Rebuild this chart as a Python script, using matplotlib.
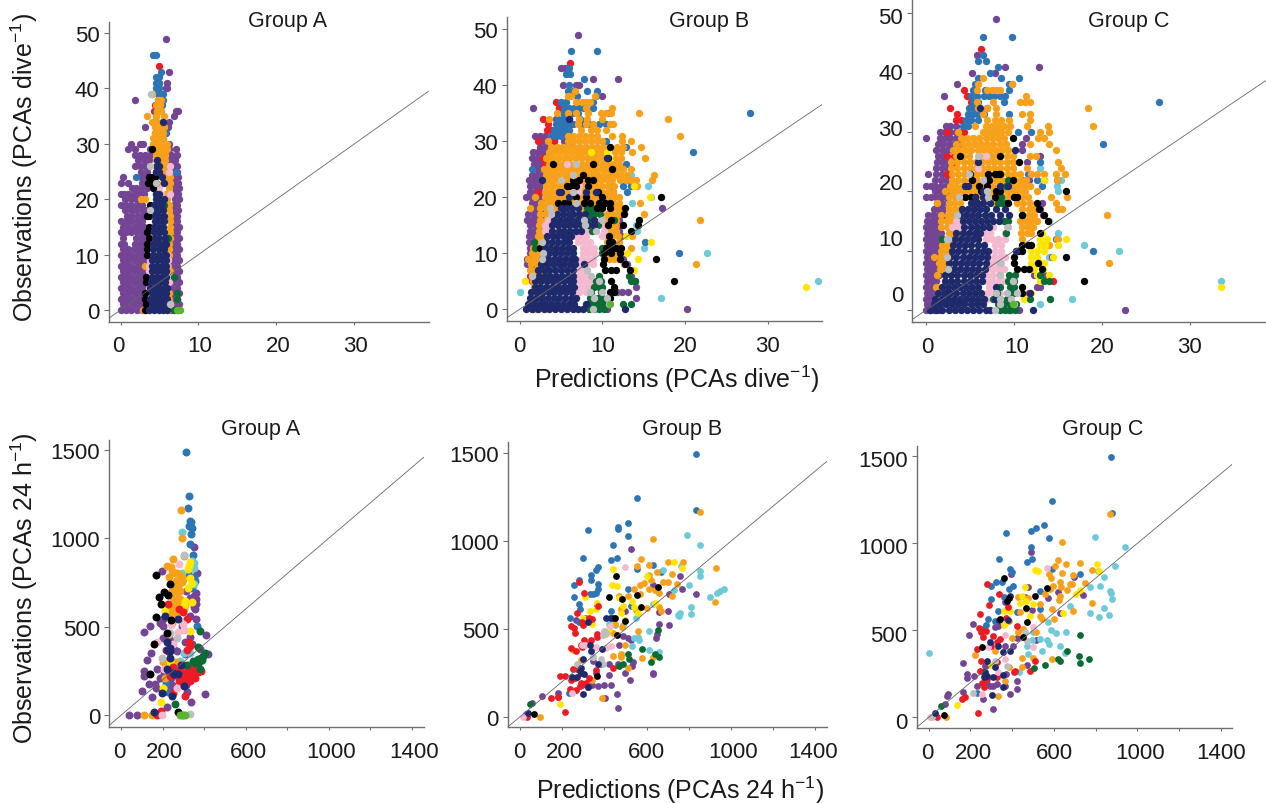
import numpy as np
import matplotlib
matplotlib.use('Agg')
import matplotlib.pyplot as plt
from matplotlib.transforms import ScaledTranslation

plt.rcParams['font.family'] = ['Liberation Sans', 'DejaVu Sans']
plt.rcParams['mathtext.fontset'] = 'custom'
plt.rcParams['mathtext.rm'] = 'Liberation Sans'
plt.rcParams['mathtext.default'] = 'rm'

W, H = 1266, 804

colors = {'purple': '#744595', 'navy': '#1f2a6d', 'orange': '#f7a11a', 'blue': '#2e75b6',
          'red': '#ed1c24', 'black': '#000000', 'pink': '#f4b8cf', 'grey': '#bcbec0',
          'green': '#0b6b35', 'cyan': '#6dcad9', 'yellow': '#ffe600', 'lime': '#5db52f'}

# top row: observations are whole numbers so each list is {observation: [predictions]}
# ---- dive, group A
ta_purple = {0: [0, .7, 1.4, 2.1, 2.8, 3.2, 6.5, 7.2], 1: [.3, 1, 1.7, 2.4, 3, 6.8, 7.5],
             2: [0, .7, 1.4, 2.1, 2.8, 3.2, 6.5, 7.2], 3: [.3, 1, 1.7, 2.4, 3, 6.8, 7.5],
             4: [0, .7, 1.4, 2.1, 2.8, 3.2, 6.5, 7.2], 5: [.3, 1, 1.7, 2.4, 3, 6.8, 7.5],
             6: [0, .7, 1.4, 2.1, 2.8, 3.2, 6.5, 7.2], 7: [.3, 1, 1.7, 2.4, 3, 6.8, 7.5],
             8: [0, .7, 1.4, 2.1, 2.8, 3.2, 6.5, 7.2], 9: [.3, 1, 1.7, 2.4, 3, 6.8, 7.5],
             10: [0, .7, 1.4, 2.1, 2.8, 3.2, 6.5, 7.2], 11: [.3, 1, 1.7, 2.4, 3, 6.8, 7.5],
             12: [0, .5, 1.9, 2.5, 3.2, 6.5, 7.2], 13: [.3, 2, 2.6, 3, 6.8, 7.5],
             14: [0, .7, 1.4, 2.1, 2.8, 3.2, 6.5, 7.2], 15: [.3, 1, 1.7, 2.4, 3, 6.8, 7.5],
             16: [0, .7, 1.4, 2.1, 2.8, 6.5, 7.2], 17: [.8, 1.5, 2.2, 2.9, 6.8, 7.3],
             18: [.6, 1.3, 2, 2.7, 3.2, 7, 7.4], 19: [0, .7, 1.4, 2.1, 2.8, 6.8, 7.3],
             20: [.6, 1.3, 2, 2.7, 7, 7.5], 21: [0, .5, 1, 1.7, 2.4, 3, 6.9, 7.4],
             22: [1.5, 2, 2.6, 3.4, 7, 7.5], 23: [.1, .9, 2.7, 3.3, 6.9, 7.4],
             24: [.3, 2.6, 3.3, 7, 7.4], 25: [2.6, 3.4, 7, 7.3], 26: [1.8, 2.5, 3.2, 6.6, 7.2],
             27: [2.3, 3, 3.6, 6.4, 7], 28: [1.8, 2.5, 3.2, 3.8, 6.5, 7.2], 29: [1, 1.8, 3.8, 6.2, 7.1],
             30: [1.3, 2.5, 2.9, 6.2], 33: [3.1, 6.1], 34: [6.2], 35: [6.8], 36: [7.1, 7.4],
             38: [1.9], 40: [5.8, 6], 41: [5, 6], 43: [6.2], 49: [5.8]}
ta_blue = {31: [4.5, 5.5], 32: [4.4, 5.8], 33: [4.6, 5.6], 34: [4.5], 35: [4.5], 36: [4.6], 37: [4.7, 5.3],
           38: [4.8, 5.5], 39: [4.8, 5.2, 5.5], 40: [4.5, 5], 41: [4.5, 5], 42: [4.5, 4.9], 43: [5.2],
           46: [4.2, 4.5], 25: [7.1], 24: [2]}
ta_red = {44: [4.9], 37: [4.4], 36: [4.3]}
ta_orange = {39: [4.1], 38: [4.8, 5.2], 37: [4.6, 5.1], 36: [4.7, 5.2], 35: [3.4, 4.6, 5.6], 34: [4.1, 4.7, 5.3],
             33: [4.4, 5, 5.6], 32: [4.4, 5, 5.5], 31: [4.2, 4.8, 5.4], 30: [4.2, 4.8, 5.4, 5.9],
             29: [4.3, 4.9, 5.5, 6], 28: [4.5, 5.1, 5.7], 27: [4.5, 5.1, 5.7], 26: [4.6, 5.2, 5.8],
             25: [4.6, 5.2, 5.8], 24: [5.4, 5.9, 6.4], 23: [5.5, 6.3], 22: [6.2], 21: [5.8, 6.2], 20: [2.6, 3.2, 6],
             19: [6.2], 18: [6.2], 17: [6.3], 16: [6.3], 15: [6.4], 14: [6.4], 13: [6.4], 12: [6.2],
             11: [6.2], 10: [6.2], 9: [6.1], 8: [6.1, 3.2], 7: [6.3], 6: [6.5], 5: [6.1], 3: [6.2], 2: [6.2], 1: [6.3], 0: [2.9, 6.1]}
ta_pink = {26: [6.4], 25: [6.2], 24: [5.3], 22: [5], 21: [5.2, 6.3], 15: [3.9], 14: [4], 13: [3.9], 12: [4], 11: [4],
           10: [3.8, 6], 9: [3.8, 6.1], 8: [3.6, 6], 7: [3.6], 6: [3.7, 6.3], 5: [3.8, 6.2], 4: [3.6], 3: [3.6], 2: [3.6], 1: [6.4]}
ta_black = {29: [4.1], 26: [4.7], 25: [4.5], 24: [3.6, 4, 4.4], 23: [3.5, 3.9, 4.5], 22: [4.2], 21: [4.5],
            19: [3.8], 17: [3.4, 3.6], 15: [3.7], 14: [3.4], 13: [3.6], 12: [3.4], 11: [3.4], 10: [3.4],
            6: [3.3], 5: [3.3], 3: [3.2], 2: [3.2], 1: [3.3], 0: [3.2]}
ta_navy = {34: [5.4], 27: [4.7], 26: [4.7, 5], 25: [4.5, 4.9], 24: [5.3], 23: [5.6], 21: [4.6, 5], 20: [4.5, 5, 5.6],
           19: [4.3, 4.9, 5.3], 18: [4.2, 4.8, 5.4], 17: [4.4, 5, 5.6], 16: [4.4, 5, 5.6], 15: [4.3, 4.9, 5.5], 14: [4.3, 4.9, 5.6],
           13: [4.4, 5, 5.7], 12: [4.2, 4.8, 5.4, 5.8], 11: [4.2, 4.9, 5.6], 10: [4.2, 4.8, 5.4, 5.8], 9: [4.1, 4.7, 5.3, 5.8],
           8: [4.1, 4.7, 5.3, 5.8], 7: [4.1, 4.7, 5.3, 5.8], 6: [4.1, 4.7, 5.3, 5.8], 5: [3.9, 4.5, 5.1, 5.7], 4: [3.8, 4.4, 5, 5.6, 6],
           3: [4, 4.6, 5.2, 5.8], 2: [3.8, 4.4, 5, 5.6, 6], 1: [4, 4.6, 5.2, 5.8], 0: [3.7, 4.3, 4.9, 5.5, 6]}
ta_grey = {26: [3.8], 23: [4.6], 18: [3.8], 1: [6.4], 39: [3.9]}
ta_green = {19: [5.6], 13: [6.1], 6: [6.9], 3: [7.2], 2: [7.2], 0: [6.9, 7.4]}
ta_lime = {0: [7.3, 7.6]}

# ---- dive, group B
tb_purple = {0: [10.5, 20.2], 1: [9.5], 2: [14], 3: [11.8, 12.4, 13.1], 4: [14], 5: [13.9], 6: [13.5], 8: [.9, 1.6, 13],
             9: [.9, 1.5, 12.5], 10: [1.2, 1.8], 11: [1.3, 2], 12: [1.1, 1.7, 2.3], 13: [1.1, 1.7, 2.3, 12.3],
             14: [1.2, 1.9, 2.5, 12], 15: [1.2, 1.9, 12.3], 16: [.9, 1.5, 2.1, 2.7, 12], 17: [1, 1.7, 2.3, 12.4],
             18: [1.5, 2.1, 2.7, 17.2], 19: [1.5, 2.1, 2.7], 20: [.8, 1.4, 2, 2.6], 21: [1.2, 1.8, 2.4],
             22: [1.2, 1.8, 2.4], 23: [1.1, 1.6, 2.2, 2.8], 24: [1.5, 2.1, 2.7], 25: [1.6, 2.2, 2.8],
             26: [1.7, 2.3, 2.9], 27: [1.5, 2.1, 2.7], 28: [1.6, 2.2, 2.8], 29: [2.5, 3.2, 5.2],
             30: [2.8, 3.3, 4.1, 5.4, 6.2], 31: [1.9, 2.5, 3, 5.5, 6], 33: [6.5, 7.5], 34: [4.4, 6], 36: [1.6, 4.8],
             38: [9.9], 40: [5.2, 6.8, 7.2], 41: [8.9, 11.9], 43: [5, 5.5], 49: [7]}
tb_red = {37: [4.4], 36: [4.7], 34: [2.8], 33: [3.4], 32: [3.3, 3.8], 31: [4.4], 30: [2.2, 4.2], 27: [2.8], 26: [3], 25: [3],
          44: [6.1], 5: [1.5], 21: [2.2], 6: [1.3]}
tb_blue = {46: [6.2, 9.3], 43: [5.9], 42: [5.6, 6.1], 41: [7.8], 40: [6], 39: [5.8, 6.4, 8.1, 9.3], 38: [6.9, 9.2], 37: [5, 5.6, 8.9],
           36: [5.4, 6, 6.6, 7.2, 7.8, 8, 8.9], 35: [5.2, 5.8, 6.4, 7.1, 10.7, 27.8], 34: [4.6, 5.2, 5.8, 7.3], 33: [4.4, 5, 5.6, 6.2, 7.4, 8.4, 9.6, 10.4],
           32: [4.2, 4.8, 5.4, 6], 31: [3.8, 4.4, 5], 30: [10.4], 29: [12.8], 28: [20.9], 26: [12.9], 25: [1.5, 11], 24: [11.6], 22: [11.2, 12.5, 13.5],
           21: [11.3, 13], 12: [15.1], 10: [19.3], 23: [13]}
tb_cyan = {3: [0], 2: [17.1], 5: [36], 10: [22.6], 11: [15], 24: [13.5], 22: [13.5, 15.5], 19: [13.6], 20: [15.9], 15: [14], 14: [14.2], 25: [11.5]}
tb_orange = {0: [1.5, 2], 1: [1.6, 2.2], 2: [1.5, 2.1], 3: [1.6, 2.2], 4: [1.7, 2.3], 5: [1.6], 6: [1.5, 2.1], 7: [1.3, 2, 2.6],
             8: [1.4, 2.1, 2.7, 21.3, 12.6], 9: [1, 1.7, 2.4, 10.8, 11.4, 12], 10: [1.5, 2.1, 2.7, 10.3, 11, 11.7], 11: [1.6, 2.3, 10.2, 11, 13.4],
             12: [2, 2.6, 10.5, 11.2, 12], 13: [2.2, 2.8, 10.5, 11.2, 11.9, 13.6], 14: [2.3, 3, 3.6, 10.4, 11, 11.6], 15: [2.3, 3, 3.6, 10.2, 10.9, 11.6],
             16: [2.5, 3.2, 3.8, 10.2, 10.9, 11.6, 21.8], 17: [2.5, 3.2, 3.8, 10.5, 11.2, 11.9, 15], 18: [1.2, 2.5, 3.2, 3.9, 4.6, 7.6, 9.8, 11, 11.7, 12.3],
             19: [2.6, 3.3, 4, 4.7, 5.4, 6.1, 6.8, 7.5, 8.2, 8.9, 9.6, 10.3, 11.3, 12, 14.6], 20: [1.8, 3, 3.7, 4.4, 5, 5.7, 6.4, 7.1, 7.8, 8.5, 9.2, 10, 10.7, 11.4, 12],
             21: [3, 3.7, 4.4, 5.1, 5.8, 6.5, 7.2, 7.9, 8.6, 9.3, 10, 10.7, 11.3], 22: [3.2, 3.9, 4.6, 5.3, 6, 6.7, 7.4, 8.1, 8.7, 9.3, 10, 10.7, 11.4, 14.2],
             23: [2.8, 3.5, 4.2, 4.9, 5.6, 6.3, 7, 7.7, 8.4, 9.1, 9.8, 10.5, 11.2, 12.1, 12.8, 13.5, 14, 16],
             24: [3.2, 3.9, 4.6, 5.3, 6, 6.7, 7.4, 8.1, 8.8, 9.5, 10.2, 10.9, 11.6, 12.3, 13, 16.2], 25: [2.9, 3.6, 4.3, 5, 5.7, 6.4, 7.1, 7.8, 8.5, 9.2, 9.9, 10.6, 11.8, 12.5, 13.4],
             26: [3.5, 4.7, 5.4, 6.1, 6.8, 7.5, 8.2, 9.2, 9.9, 10.6, 11.3, 12],
             27: [3.2, 3.9, 4.6, 5.3, 6, 6.7, 7.4, 8.1, 8.8, 9.5, 10.2, 11.6, 12.3, 15.2], 28: [3.5, 4.2, 4.9, 5.6, 6.3, 7, 7.7, 8.4, 9.1, 9.8, 11.5, 12.2, 13.6],
             29: [3.8, 4.5, 5.2, 5.9, 6.6, 7.3, 8, 8.7, 9.4, 10.1, 11.8, 12.5, 14.7], 30: [3.4, 5.8, 6.5, 7.2, 7.9, 8.6, 9.3, 10, 12.4, 13.5],
             31: [5.8, 6.5, 7.2, 7.9, 8.6, 9.3, 11.1, 12.4, 19.4], 32: [7.4, 8.6, 9.4, 10.4], 33: [7, 8, 8.8, 10.9, 11.3], 34: [3.6, 7.2, 8.1, 10, 17.9],
             35: [4.5, 5.8, 6.8, 8.3, 9.8, 10.4, 11, 14.4], 36: [8, 11.1], 37: [6.8, 7.5, 8, 8.5], 38: [5.8, 6.2, 9.1], 39: [6.7]}
tb_yellow = {4: [34.6], 5: [.7], 9: [14.3], 10: [13], 12: [15.9], 20: [15.7], 22: [13.8], 28: [8.6, 10.6], 27: [10.8], 7: [13.8], 13: [12.9]}
tb_pink = {3: [7.2, 8], 4: [7.4, 8.1, 8.8], 5: [7.2, 7.9, 8.6], 6: [7.1, 7.8, 8.5], 7: [7.3, 8], 8: [7.4, 8.1, 8.8], 9: [7.5, 8.2, 8.9],
           10: [7.6, 8.3, 9], 11: [7.6, 8.3, 9], 12: [7, 7.8, 8.5], 13: [6.6, 7.3, 8, 10], 14: [3, 3.8, 7.8, 8.5, 10.2], 15: [3, 3.7, 4.4, 9.9], 16: [3.4, 4, 9.7],
           17: [7, 8], 21: [7], 22: [7.2], 26: [5.7]}
tb_green = {0: [8.4, 9, 9.6, 10.2], 1: [8.2, 8.9, 9.5, 10.2, 12.5, 13.4], 2: [8.5, 9.5, 10], 3: [8.6, 9.8], 4: [9, 9.6, 10], 5: [9.2, 9.8, 13.4, 13.9], 6: [9.6, 13.2], 10: [10], 11: [1.8, 10], 12: [1.7],
            14: [8.7], 15: [8.8, 9.5], 16: [8.6, 11.4], 17: [8.5, 9, 9.7], 18: [8.1, 8.7, 9.4]}
tb_black = {29: [10.9], 27: [10.7], 26: [4, 8.9], 25: [11.1], 24: [7.6], 23: [6.5, 7.2, 8.3, 8.8], 22: [5.7, 6.2, 6.8, 8.2], 21: [9.5], 20: [6.8, 8, 10, 17.1],
            19: [4.6, 5.3, 5.8, 7.8, 8.5, 9.6, 10.3, 10.9], 18: [9.4, 10, 10.9, 12.7], 17: [12.6], 16: [11, 14.4], 15: [10.7, 12.5, 14.3], 14: [13.4], 13: [10.8], 12: [10.8, 11.2],
            11: [2.4, 10.4, 11, 11.6, 12.2], 10: [10.2, 11, 12.1], 9: [10.2, 12.1, 16.5], 8: [10.1, 12.7], 7: [10.3, 11, 11.7, 13.3], 5: [18.6, 11], 4: [11.4], 3: [10.9, 11.4], 2: [10.9]}
tb_navy = {0: [.8, 1.5, 2.2, 2.9, 3.6, 4.3, 5, 5.7, 6.4, 7, 7.6, 12.7], 1: [1, 1.7, 2.4, 3.1, 3.8, 4.5, 5.2, 5.9, 6.6, 8], 2: [1.2, 2, 2.7, 3.4, 4.1, 4.8, 5.5, 6.2, 6.8],
           3: [1.4, 2.1, 2.8, 3.5, 4.2, 4.9, 5.6, 6.3], 4: [1.8, 2.5, 3.2, 3.9, 4.6, 5.3, 6, 6.6], 5: [1.9, 2.6, 3.3, 4, 4.7, 5.4, 6.1, 6.5],
           6: [2.3, 3, 3.7, 4.4, 5.1, 5.8, 6.5], 7: [2.2, 2.9, 3.6, 4.3, 5, 5.7, 6.4], 8: [2.6, 3.3, 4, 4.7, 5.4, 6.1, 6.7, 7.8], 9: [2.7, 3.4, 4.1, 4.8, 5.5, 6.2, 6.7],
           10: [2.9, 3.6, 4.3, 5, 5.7, 6.4], 11: [3, 3.7, 4.4, 5.1, 5.8, 6.4], 12: [3.2, 3.9, 4.6, 5.3, 5.9], 13: [3.3, 4, 4.5, 5.2, 5.7, 6.2], 14: [3.9, 4.7, 5.4, 6.1, 6.8, 7.4],
           15: [3.9, 4.6, 5.3, 6, 6.7, 7.4, 8.3, 9], 16: [4.2, 4.9, 5.6, 6.2, 6.9, 7.5, 8, 9], 17: [4.5, 5.2, 5.9, 6.5, 7.2, 7.9], 18: [5, 5.6, 6.3, 7], 20: [6], 21: [4.7, 5, 8, 9.2], 23: [2.7], 27: [10.5], 34: [6]}
tb_grey = {0: [8.9], 1: [10.8], 2: [9, 10.6], 3: [8.5, 9.9], 5: [9.6], 6: [1.5, 8.6], 7: [8.1], 9: [2.7], 10: [2.8], 12: [2.7], 16: [7.8, 9.9], 14: [9.2], 15: [7.9], 17: [3.8], 18: [3.7], 21: [6.4], 23: [5],
           24: [6.5], 26: [6.8], 19: [6.8]}
tb_lime = {1: [10.9]}

# ---- dive, group C
tc_purple = {0: [0, .5, 1, 1.5, 9.5, 10.6, 22.7], 1: [.2, .7, 1.2, 1.6], 2: [0, .5, 1, 1.5], 3: [.2, .7, 1.2], 4: [0, .5, 1, 12.6, 13], 5: [.2, .7, 1.2], 6: [0, .5, 1, 1.5, 12.3, 13.5],
             7: [.2, .7, 1.2], 8: [0, .5, 1, 1.5], 9: [.2, .7, 1.2, 14.3], 10: [0, .5, 1, 1.5], 11: [.2, .7, 1.2, 1.7, 1.6], 12: [0, .5, 1, 1.5, 1.9], 13: [.2, .7, 1.2, 1.7], 14: [0, .5, 1, 1.5], 15: [.2, .7, 1.2],
             16: [.3, .8, 1.4, 2, 13.3], 17: [.9, 1.5, 2, 13], 18: [1.3, 1.9, 2.5, 13.2], 19: [0, .6, 1.2, 1.7, 2.3], 20: [1.1, 1.6, 2.2, 2.7], 21: [0, .6, 1.1, 1.7, 2.3, 2.7], 22: [1.1, 1.7, 2.3, 11, 11.7], 23: [.3, 1.2, 1.8, 2.4, 2.9], 24: [1.2, 1.8, 2.4],
             25: [1.3, 1.9, 2.3, 11.5], 26: [1.4, 2, 13], 27: [1.2, 1.8, 2.4, 3, 11], 28: [1.4, 2, 2.6, 3.2, 3.9, 10.9], 29: [0, 1.6, 2.2, 2.8, 3.4, 4, 11.4], 30: [1.6, 2.2, 2.8, 3.4, 4, 7.9], 31: [2.3, 2.8, 3.5], 34: [5.7, 7], 38: [3.6, 9.8], 40: [5.3, 7.9], 41: [9, 12.9], 43: [5.8], 49: [8], 36: [2.1]}
tc_red = {44: [6.3], 37: [4.4], 36: [4.7], 35: [5.1], 34: [2.8], 33: [3.6], 32: [3.4, 4], 30: [2.4, 4.4], 26: [2.4, 3.2], 25: [3.2], 23: [2.4], 3: [11.7], 5: [14.5]}
tc_blue = {46: [6.5, 9.8], 42: [6, 6.8], 43: [6.5], 41: [8.2], 40: [7.3], 39: [5.9, 8.6, 10.6], 38: [5.6, 9.5], 37: [5.4, 6.7, 9.5], 36: [5.2, 5.8, 6.6, 7.2, 7.8, 8.4, 9],
             35: [5.4, 6, 8.9, 26.5], 34: [4.9, 5.5, 6.1], 33: [4.8, 5.4, 6, 6.6, 9.5], 32: [4.6, 5.2, 6], 31: [4.2, 4.8], 30: [12, 10.5], 28: [20.2], 23: [11.6], 22: [12.7, 13.5, 14.9], 21: [13.2], 25: [13], 10: [19], 12: [14.8]}
tc_cyan = {1: [13], 2: [16.6], 5: [33.5], 10: [22], 11: [18], 12: [15], 13: [15], 20: [15], 21: [14.9], 22: [15.4], 24: [13], 15: [14], 9: [14]}
tc_orange = {2: [1.2, 1.7], 3: [1.4], 4: [1.2, 1.7], 6: [1.3], 7: [1.6, 2.1, 2.6], 8: [1.5, 2.1, 2.6, 20.8], 9: [1, 1.6, 2.2], 10: [1.7, 2.3, 2.8], 11: [1.9, 2.5, 13.5, 14],
             12: [2.2, 2.8, 11, 14.9], 13: [2.6, 3.1, 3.7, 10.8, 11.5, 12], 14: [1.7, 2.4, 3, 11, 11.6, 12.2], 15: [1.7, 2.4, 3, 10.7, 11.4, 12, 12.6], 16: [1.7, 2.5, 3.1, 3.7, 11, 11.7, 12.3, 20.6], 17: [2.7, 3.3, 3.9, 11, 11.7, 12.3, 15, 15.5],
             18: [1.3, 2.6, 3.2, 3.9, 7.8, 10.4, 11.1, 11.8, 14.8], 19: [2.7, 3.3, 4, 4.6, 5.3, 6, 6.7, 7.4, 8.1, 8.8, 9.5, 10.2, 10.9, 11.6, 14.2, 16.1], 20: [2.2, 3, 3.7, 4.4, 5, 5.7, 6.4, 7.1, 7.8, 8.5, 9.2, 9.9, 10.6, 11.3, 12.7],
             21: [2.8, 3.5, 4.2, 4.9, 5.6, 6.3, 7, 7.7, 8.4, 9.1, 9.8, 10.5, 11.2, 11.8], 22: [3, 3.7, 4.4, 5.1, 5.8, 6.6, 7.3, 8, 8.7, 9.4, 10.1, 10.8, 11.4, 14.9], 23: [3, 3.7, 4.4, 5.1, 5.8, 6.5, 7.2, 7.9, 8.6, 9.3, 10, 10.7, 12, 12.7, 13.5, 14.8, 15.8],
             24: [2.9, 3.6, 4.3, 5, 5.7, 6.4, 7.1, 7.8, 8.5, 9.2, 9.9, 11.5, 15.4],
             25: [2.9, 3.6, 4.3, 5, 5.7, 6.4, 7.1, 7.8, 8.5, 9.2, 9.9, 15], 26: [3.5, 4.2, 4.9, 6.1, 6.8, 7.5, 8.2, 9.2, 9.9, 11.9, 12.5],
             27: [3.1, 3.8, 4.5, 5.2, 5.9, 6.6, 7.3, 8, 8.7, 9.4, 14.8], 28: [3.5, 4.2, 4.9, 5.6, 6.3, 7, 7.7, 8.4, 9.1, 11.9, 14], 29: [4, 4.7, 5.4, 6.1, 6.8, 7.5, 8.2, 8.9, 12.8, 13.5],
             30: [3.7, 6.5, 7.2, 7.9, 8.6, 9.3, 13, 14], 31: [5.6, 6.8, 7.5, 8.2, 8.9, 9.6, 11.5, 13.9, 19], 32: [7, 7.9, 8.6, 9.5, 11.8], 33: [6.5, 8, 11, 11.9], 34: [6, 7, 18.4, 8], 35: [5.8, 7.7, 10.7, 11.3, 11.9],
             36: [11.4], 37: [7, 7.5, 8, 8.5, 5.8], 38: [6, 9.8], 39: [6.5]}
tc_yellow = {4: [33.5], 5: [13], 6: [12.7, 14], 7: [12.3, 13.3], 8: [12, 13, 13.5], 9: [12, 12.7, 14.5], 10: [12, 12.6, 13.4], 11: [13, 13.6, 15], 12: [13, 13.8, 16], 13: [13.2], 2: [11.2], 3: [12], 22: [13.5]}
tc_pink = {2: [7, 8.5], 3: [7, 7.7, 8.4], 4: [7.2, 8], 5: [6.8, 7.5, 8.2, 8.9], 6: [7, 7.7, 8.4], 7: [6.8, 7.5, 8.2, 8.9], 8: [7.3, 8, 8.6], 9: [7.8, 8.5, 9], 10: [7.9, 8.6], 11: [7.9, 8.6], 12: [6.8, 7.5, 8.2, 9], 13: [6.6, 7.3, 9], 14: [3, 3.7, 9.2, 7.6], 15: [3.4, 4], 16: [3.7, 8.5], 22: [7.1], 24: [6], 26: [6.8]}
tc_green = {0: [8.4, 9, 9.6, 10.2], 1: [8.2, 8.9, 9.6, 10.3], 2: [7.7, 8.5, 9.2, 11.8, 14.1], 3: [8.1, 9.5, 10], 4: [8.4, 9.6, 10], 5: [9.3, 10, 13.5, 14], 6: [9.5, 10.2, 13], 10: [10.3], 12: [1.8], 13: [9.1],
            15: [8.9, 9.3], 16: [11], 18: [8.2, 8.7, 9], 19: [8.6], 21: [9.1], 22: [9.3]}
tc_black = {29: [9.9], 26: [3.9, 8.5], 25: [10.6], 23: [5, 7.1, 7.9, 8.2, 8.5], 22: [5.3, 7.2, 9.9], 21: [6.1, 7], 20: [6.3, 8, 8.5, 16], 19: [4.5, 5.1, 5.6, 7.9, 10, 10.4], 18: [5.8, 9.3, 12.7], 17: [12.9], 16: [13.5, 11], 15: [13.9], 13: [13], 11: [11, 11.6, 12], 10: [10.5, 11],
            9: [10, 16], 8: [10, 12.8], 7: [10.4, 11.2, 11.7, 13.2], 5: [18], 4: [11], 3: [11, 2.4]}
tc_navy = {0: [.5, 1.2, 1.9, 2.6, 3.3, 4, 4.7, 5.4, 6.1, 6.8, 7.3, 12.2], 1: [.9, 1.6, 2.3, 3, 3.7, 4.4, 5.1, 5.8, 6.5], 2: [1.1, 1.8, 2.5, 3.2, 3.9, 4.6, 5.3, 6, 6.6, 7.9], 3: [1.4, 2.1, 2.8, 3.5, 4.2, 4.9, 5.6, 6.3, 11.9], 4: [1.8, 2.5, 3.2, 3.9, 4.6, 5.3, 6, 8],
           5: [2.2, 2.9, 3.6, 4.3, 5, 5.7, 6.4], 6: [2.2, 2.9, 3.6, 4.3, 5, 5.7, 6.4], 7: [2.5, 3.2, 3.9, 4.6, 5.3, 6, 6.7], 8: [2.6, 3.3, 4, 4.7, 5.4, 6.1, 6.9], 9: [2.8, 3.5, 4.2, 4.9, 5.6, 6.3, 7], 10: [3, 3.7, 4.4, 5.1, 5.8, 6.5, 7.1, 10.3],
           11: [3.1, 3.8, 4.5, 5.2, 5.9, 6.6], 12: [3.3, 4, 4.7, 5.4, 6], 13: [3.5, 4.2, 4.9, 5.6, 6.2], 14: [4.4, 5.1, 5.8, 6.5, 7.2], 15: [4.2, 4.9, 5.6, 6.3, 7, 7.6, 8.3], 16: [3.9, 4.6, 5.3, 6, 6.7, 7.4, 8.5, 9.5], 17: [4.1, 4.8, 5.5, 6.2, 6.9, 8, 9], 18: [5.2, 5.8, 6.5, 7.3], 19: [5.6, 6.5],
           21: [4.5, 4.8, 8.4, 9.4], 20: [6.5], 34: [6.2], 27: [10.2], 25: [6]}
tc_grey = {0: [7.9], 1: [8.5, 10], 2: [8.5, 9.7], 3: [8, 9.2, 10.4], 5: [9.9], 6: [8.5], 7: [2.5], 8: [8.4], 9: [2.4], 12: [2.5, 2.4], 14: [9.4], 16: [3.6], 19: [3.8, 7.1], 23: [4.9], 26: [6], 22: [6.5], 20: [7]}
tc_lime = {1: [9.9]}

# bottom row: (prediction, observation) read off as pairs
# ---- 24 h, group A
ba_purple = [(350, 947), (366, 803), (197, 814), (362, 692), (358, 654), (354, 598), (362, 545), (330, 560), (109, 472), (139, 502), (406, 455), (186, 522), (202, 504), (202, 438), (142, 353), (123, 312), (109, 246), (110, 218),
             (170, 259), (102, 137), (134, 178), (162, 178), (149, 100), (402, 118), (336, 73), (218, 47), (37, 0), (75, 0), (240, 210), (243, 170), (258, 225), (318, 128), (305, 344), (305, 410), (290, 504), (378, 372), (418, 344), (202, 540), (314, 702),
             (352, 670), (362, 630), (350, 610), (270, 700), (330, 660), (205, 240), (290, 180), (225, 180), (240, 150), (310, 170), (186, 210), (280, 215), (165, 150), (235, 425), (250, 380), (270, 360), (330, 440), (340, 400)]
ba_blue = [(314, 1489), (326, 1240), (323, 1171), (330, 1096), (326, 1068), (342, 1058), (338, 1024), (333, 968), (346, 904), (338, 1090), (355, 760), (365, 504), (226, 128), (340, 720), (350, 780), (320, 800), (215, 180)]
ba_cyan = [(290, 1036), (350, 861), (293, 805), (333, 353), (282, 306), (335, 830), (352, 830), (340, 870), (300, 350), (350, 740)]
ba_orange = [(286, 1158), (293, 1002), (301, 898), (250, 880), (222, 842), (242, 814), (258, 805), (298, 767), (274, 729), (266, 692), (282, 655), (250, 615), (234, 598), (266, 578), (306, 620), (240, 835), (230, 780), (262, 760), (282, 790), (254, 730),
             (240, 695), (270, 640), (250, 660), (285, 700), (300, 600), (225, 590), (258, 590), (270, 800), (250, 560), (242, 520), (210, 212), (202, 297), (109, 0), (149, 0), (290, 750), (230, 460), (265, 300), (215, 300)]
ba_yellow = [(330, 865), (322, 823), (333, 776), (341, 744), (309, 645), (210, 590), (192, 71), (330, 476), (325, 845), (320, 720), (340, 640), (200, 150), (235, 300), (300, 620)]
ba_red = [(250, 270), (265, 245), (280, 255), (295, 240), (310, 230), (325, 215), (340, 225), (355, 210), (370, 245), (385, 250), (300, 280), (320, 260), (345, 250), (300, 210), (330, 190), (290, 225), (355, 270), (280, 190), (325, 415), (333, 390), (318, 370), (230, 355),
          (214, 365), (235, 220), (305, 110), (190, 25), (250, 126), (225, 630), (295, 580), (315, 540), (280, 600), (170, 0), (345, 290)]
ba_black = [(166, 793), (235, 742), (205, 695), (226, 677), (182, 667), (189, 626), (166, 556), (237, 539), (158, 400), (139, 231), (274, 15), (218, 462)]
ba_pink = [(278, 851), (298, 513), (274, 472), (170, 410), (250, 400), (266, 150), (197, 0), (205, 260), (300, 480), (240, 510)]
ba_grey = [(234, 462), (197, 325), (270, 438), (333, 4), (300, 905)]
ba_navy = [(197, 124), (246, 109), (158, 17), (302, 165), (274, 230), (250, 240), (218, 259), (286, 282), (235, 325), (235, 362), (218, 410), (210, 560), (274, 545), (235, 380), (255, 230), (218, 370)]
ba_green = [(381, 476), (368, 382), (402, 353), (386, 325), (370, 315), (354, 296), (378, 259), (346, 305), (395, 335), (317, 282), (259, 62), (375, 300), (390, 310)]
ba_lime = [(282, 0), (290, 0), (298, 0), (305, 0)]

# ---- 24 h, group B
bb_purple = [(526, 953), (760, 800), (770, 730), (835, 700), (705, 700), (700, 600), (660, 595), (705, 525), (660, 530), (645, 450), (650, 470), (630, 750), (630, 250), (520, 210), (500, 250), (530, 290), (535, 310), (630, 245),
             (265, 550), (310, 560), (440, 560), (500, 600), (510, 450), (490, 460), (525, 440), (470, 410), (465, 300), (420, 300), (385, 300), (345, 320), (360, 250), (420, 240), (430, 180), (400, 180), (370, 175), (340, 180), (320, 170), (295, 180), (460, 130), (405, 105), (465, 50), (105, 120), (180, 135), (180, 110), (55, 80), (30, 15)]
bb_blue = [(836, 1497), (556, 1245), (836, 1176), (324, 1063), (463, 1083), (463, 1072), (510, 1102), (513, 1028), (443, 977), (462, 907), (297, 907), (430, 892), (368, 854), (360, 835), (338, 808), (278, 780), (255, 751), (337, 778), (368, 755), (368, 727), (360, 705), (333, 698), (345, 700),
           (257, 683), (278, 641), (283, 613), (238, 562), (365, 632), (432, 600), (556, 840), (632, 865), (667, 822), (513, 725), (524, 632), (425, 562), (278, 537), (230, 135)]
bb_cyan = [(790, 1035), (853, 980), (762, 860), (680, 835), (852, 830), (852, 800), (800, 750), (965, 725), (950, 715), (935, 705), (900, 680), (810, 625), (810, 585), (760, 590), (752, 575), (750, 580), (630, 640), (610, 490), (550, 560), (610, 380), (660, 370), (560, 455), (490, 520), (480, 350),
           (450, 520), (565, 440), (540, 450), (530, 405), (420, 530), (730, 720)]
bb_orange = [(855, 1166), (630, 1010), (575, 900), (555, 860), (610, 865), (700, 880), (775, 880), (930, 845), (720, 815), (610, 810), (650, 825), (620, 780), (680, 770), (700, 770), (745, 755), (570, 750), (590, 760), (540, 730), (510, 690), (570, 700), (610, 725), (640, 720), (660, 705), (720, 690),
             (925, 655), (660, 625), (670, 600), (600, 620), (550, 610), (470, 690), (480, 615), (450, 530), (485, 510), (440, 480), (560, 490), (500, 410), (440, 345), (480, 360), (580, 335), (630, 340), (510, 280), (390, 105), (340, 210), (290, 325), (95, 0), (250, 380), (480, 340)]
bb_yellow = [(440, 840), (730, 880), (770, 850), (600, 800), (435, 750), (460, 745), (310, 680), (365, 650), (330, 605), (360, 615), (490, 630), (480, 590), (540, 625), (300, 560), (340, 530), (560, 590), (470, 675), (190, 70), (530, 660), (420, 500), (410, 470), (500, 550), (640, 650)]
bb_red = [(280, 770), (305, 705), (270, 590), (240, 515), (255, 505), (262, 475), (300, 520), (295, 540), (325, 565), (340, 555), (370, 630), (305, 440), (290, 410), (295, 395), (315, 415), (240, 390), (265, 375), (365, 455), (335, 435), (365, 470), (190, 230), (215, 235), (240, 210), (260, 220), (290, 195),
          (265, 150), (235, 160), (285, 175), (315, 190), (250, 270), (440, 280), (360, 265), (145, 105), (180, 110), (215, 25), (35, 0), (325, 220), (270, 270)]
bb_black = [(455, 800), (420, 685), (555, 695), (485, 672), (655, 740), (575, 628), (450, 565), (500, 545), (460, 465), (365, 235), (65, 15)]
bb_pink = [(500, 855), (425, 515), (310, 410), (360, 400), (295, 410), (245, 135), (15, 0), (345, 340), (410, 390), (430, 405)]
bb_grey = [(400, 490), (395, 465), (410, 480), (385, 330), (395, 300), (270, 300), (370, 300), (345, 340)]
bb_navy = [(40, 20), (300, 130), (320, 170), (290, 250), (305, 245), (270, 225), (245, 225), (290, 280), (300, 330), (330, 410), (335, 375), (390, 385), (370, 300), (320, 540), (410, 565), (430, 560), (285, 260)]
bb_green = [(655, 495), (580, 385), (640, 355), (660, 340), (510, 355), (515, 330), (620, 310), (490, 300), (470, 290), (48, 70)]

# ---- 24 h, group C
bc_purple = [(491, 952), (394, 824), (475, 747), (368, 661), (460, 690), (622, 718), (740, 701), (628, 600), (493, 619), (573, 684), (694, 805), (211, 536), (193, 475), (262, 508), (318, 517), (332, 523), (366, 412), (405, 412), (421, 454), (512, 446),
             (166, 314), (185, 249), (182, 226), (215, 235), (230, 182), (163, 144), (94, 134), (89, 121), (78, 77), (260, 105), (309, 50), (389, 132), (421, 163), (424, 211), (370, 249), (469, 301), (278, 190), (295, 180), (310, 180), (325, 190), (270, 295), (278, 300), (367, 180)]
bc_blue = [(876, 1498), (589, 1245), (879, 1176), (372, 1061), (553, 1103), (512, 1086), (491, 1071), (576, 1031), (488, 977), (338, 908), (496, 908), (469, 891), (388, 851), (397, 833), (324, 780), (352, 780), (297, 753), (402, 755), (384, 736), (362, 693), (300, 680), (330, 613), (284, 563), (273, 531),
           (421, 603), (533, 623), (533, 728), (589, 852), (726, 824), (317, 552), (230, 140)]
bc_cyan = [(0, 368), (797, 1034), (939, 979), (892, 868), (809, 843), (841, 806), (775, 751), (820, 755), (871, 728), (873, 713), (879, 682), (775, 600), (841, 626), (815, 579), (866, 590), (678, 638), (660, 492), (585, 504), (609, 483), (572, 546), (628, 408), (577, 421), (565, 446), (541, 379),
           (493, 446), (533, 450), (469, 408), (477, 364), (655, 368), (434, 259), (501, 488)]
bc_orange = [(869, 1167), (641, 1010), (620, 904), (606, 868), (657, 881), (724, 885), (781, 845), (641, 829), (692, 818), (576, 824), (584, 801), (751, 774), (676, 766), (689, 766), (628, 776), (636, 751), (663, 732), (596, 757), (580, 738), (557, 709), (628, 699), (623, 674), (692, 613), (781, 655),
             (601, 565), (589, 623), (533, 651), (533, 584), (541, 565), (477, 684), (429, 690), (437, 603), (429, 492), (453, 508), (512, 488), (397, 456), (222, 360), (317, 383), (385, 555), (589, 337), (498, 339), (445, 341), (445, 287), (383, 287), (367, 209), (332, 121), (83, 0)]
bc_yellow = [(807, 879), (817, 843), (509, 845), (525, 839), (461, 751), (445, 699), (464, 670), (360, 613), (485, 584), (464, 620), (645, 600), (708, 709), (724, 730), (134, 73), (390, 610), (360, 530), (437, 655), (300, 300), (500, 650)]
bc_red = [(281, 768), (335, 707), (290, 644), (246, 596), (370, 569), (381, 632), (240, 515), (274, 498), (249, 488), (262, 460), (306, 465), (344, 450), (325, 431), (421, 527), (233, 393), (297, 408), (249, 326), (325, 316), (413, 268), (485, 268), (509, 322), (410, 259), (246, 268), (262, 259), (279, 220), (255, 200),
          (265, 172), (325, 230), (158, 105), (176, 115), (236, 25), (38, 0)]
bc_black = [(360, 799), (565, 743), (509, 697), (385, 684), (377, 670), (464, 628), (344, 565), (469, 546), (450, 464), (257, 404), (72, 13)]
bc_pink = [(565, 860), (498, 402), (368, 475), (285, 404), (368, 335), (257, 134), (6, 0), (333, 262), (501, 517)]
bc_grey = [(214, 140), (461, 492), (469, 437), (317, 326), (373, 297), (15, 0)]
bc_navy = [(30, 25), (303, 128), (357, 172), (309, 230), (265, 230), (270, 260), (317, 287), (281, 326), (354, 245), (354, 373), (389, 379), (330, 408), (293, 431), (381, 561), (335, 560), (280, 235), (390, 700)]
bc_green = [(726, 475), (663, 383), (620, 337), (628, 326), (721, 352), (723, 310), (767, 337), (557, 301), (504, 285), (59, 67)]

order_top = ['cyan', 'purple', 'red', 'blue', 'orange', 'yellow', 'pink', 'green', 'black', 'navy', 'grey', 'lime']
order_bottom = ['purple', 'blue', 'cyan', 'orange', 'yellow', 'red', 'pink', 'grey', 'green', 'navy', 'black', 'lime']

top_a = dict(purple=ta_purple, blue=ta_blue, red=ta_red, orange=ta_orange, pink=ta_pink, black=ta_black, navy=ta_navy, grey=ta_grey, green=ta_green, lime=ta_lime)
top_b = dict(cyan=tb_cyan, purple=tb_purple, red=tb_red, blue=tb_blue, orange=tb_orange, yellow=tb_yellow, pink=tb_pink, green=tb_green, black=tb_black, navy=tb_navy, grey=tb_grey, lime=tb_lime)
top_c = dict(cyan=tc_cyan, purple=tc_purple, red=tc_red, blue=tc_blue, orange=tc_orange, yellow=tc_yellow, pink=tc_pink, green=tc_green, black=tc_black, navy=tc_navy, grey=tc_grey, lime=tc_lime)
bot_a = dict(purple=ba_purple, blue=ba_blue, cyan=ba_cyan, orange=ba_orange, yellow=ba_yellow, red=ba_red, black=ba_black, pink=ba_pink, grey=ba_grey, navy=ba_navy, green=ba_green, lime=ba_lime)
bot_b = dict(purple=bb_purple, blue=bb_blue, cyan=bb_cyan, orange=bb_orange, yellow=bb_yellow, red=bb_red, black=bb_black, pink=bb_pink, grey=bb_grey, navy=bb_navy, green=bb_green)
bot_c = dict(purple=bc_purple, blue=bc_blue, cyan=bc_cyan, orange=bc_orange, yellow=bc_yellow, red=bc_red, black=bc_black, pink=bc_pink, grey=bc_grey, navy=bc_navy, green=bc_green)

top_xticks = [0, 10, 20, 30]
top_yticks = [0, 10, 20, 30, 40, 50]
bot_xticks = [0, 200, 400, 600, 800, 1000, 1200, 1400]
bot_xlabels = ['0', '200', '', '600', '', '1000', '', '1400']
bot_yticks = [0, 500, 1000, 1500]

fig = plt.figure(figsize=(W / 100, H / 100), dpi=100)


def make_axes(left, right, top, bottom, xlim, ylim):
    ax = fig.add_axes([left / W, 1 - bottom / H, (right - left) / W, (bottom - top) / H])
    ax.set_xlim(xlim)
    ax.set_ylim(ylim)
    for s in ['top', 'right']:
        ax.spines[s].set_visible(False)
    for s in ['left', 'bottom']:
        ax.spines[s].set_color('#6d6e71')
        ax.spines[s].set_linewidth(1.0)
    ax.tick_params(axis='x', colors='#6d6e71', labelcolor='#1a1a1a', length=2.5, width=.8, labelsize=16, pad=7.5)
    ax.tick_params(axis='y', colors='#6d6e71', labelcolor='#1a1a1a', length=3.5, width=.8, labelsize=16, pad=3)
    # 1:1 line, runs corner to corner of the box
    lim = min(xlim[1], ylim[1])
    low = max(xlim[0], ylim[0])
    ax.plot([low, lim], [low, lim], color='#666666', lw=.6, zorder=50)
    return ax


def draw_top(ax, data, size):
    for name in order_top:
        if name in data:
            xs = [x for y in data[name] for x in data[name][y]]
            ys = [y for y in data[name] for x in data[name][y]]
            ax.scatter(xs, ys, s=size, color=colors[name], linewidths=0, zorder=3)


def draw_bottom(ax, data, size):
    for name in order_bottom:
        if name in data:
            pts = np.array(data[name])
            ax.scatter(pts[:, 0], pts[:, 1], s=size, color=colors[name], linewidths=0, zorder=3)


def nudge(labels, shifts, axis='x'):
    # the printed numbers do not sit exactly on their ticks in the original
    for lab, d in zip(labels, shifts):
        off = (d / 100, 0) if axis == 'x' else (0, d / 100)
        lab.set_transform(lab.get_transform() + ScaledTranslation(off[0], off[1], fig.dpi_scale_trans))


ax1 = make_axes(108.5, 428.5, 23, 322.5, (-1.54, 39.5), (-2.08, 52))
draw_top(ax1, top_a, 28)
ax2 = make_axes(506.7, 821.7, 18.3, 322, (-1.57, 36.5), (-2.1, 52.1))
draw_top(ax2, top_b, 28)
ax3 = make_axes(912.3, 1266, 1, 323.3, (-1.52, 38.67), (-2.0, 52.2))
draw_top(ax3, top_c, 28)
for ax in [ax1, ax2, ax3]:
    ax.set_xticks(top_xticks)
    ax.set_yticks(top_yticks)
nudge(ax1.get_xticklabels(), [-2, 1.5, 1.5, 1.5])
nudge(ax3.get_xticklabels(), [2, 3.5, 1, 0])
nudge(ax3.get_yticklabels(), [17.5, 14, 10, 5, 2, -2], 'y')

ax4 = make_axes(109.3, 423.7, 440.7, 727.7, (-57.8, 1456.6), (-66, 1556))
draw_bottom(ax4, bot_a, 33)
ax5 = make_axes(508, 826.7, 443.3, 728.3, (-56.9, 1454), (-60, 1563.5))
draw_bottom(ax5, bot_b, 24)
ax6 = make_axes(916.7, 1232.3, 446.7, 729.3, (-57.5, 1455), (-63, 1561))
draw_bottom(ax6, bot_c, 24)
for ax in [ax4, ax5, ax6]:
    ax.set_xticks(bot_xticks, bot_xlabels)
    ax.set_yticks(bot_yticks)
nudge(ax4.get_xticklabels(), [-1.7, 2, 0, 3, 0, 2, 0, 2.3])
nudge(ax5.get_xticklabels(), [-.7, 2.7, 0, -.3, 0, 2, 0, -2.7])
nudge(ax6.get_xticklabels(), [-1, 3, 0, .7, 0, 3, 0, .3])
nudge(ax6.get_yticklabels(), [-3, -2.7, -1.6, -1.6], 'y')

titles = ['Group A', 'Group B', 'Group C', 'Group A', 'Group B', 'Group C']
title_x = [288, 709, 1129, 261, 682, 1103]
title_y = [21, 21, 21, 430, 430, 430]
for t, x, y in zip(titles, title_x, title_y):
    fig.text(x / W, 1 - y / H, t, ha='center', va='center', fontsize=15.5, color='#1a1a1a')

ylab_dive = 'Observations (PCAs dive$^{\u22121}$)'
ylab_day = 'Observations (PCAs 24 h$^{\u22121}$)'
xlab_dive = 'Predictions (PCAs dive$^{\u22121}$)'
xlab_day = 'Predictions (PCAs 24 h$^{\u22121}$)'
fig.text(24 / W, 1 - 167 / H, ylab_dive, rotation=90, ha='center', va='center', fontsize=18, color='#1a1a1a')
fig.text(24 / W, 1 - 588 / H, ylab_day, rotation=90, ha='center', va='center', fontsize=18, color='#1a1a1a')
fig.text(677 / W, 1 - 379 / H, xlab_dive, ha='center', va='center', fontsize=18, color='#1a1a1a')
fig.text(680 / W, 1 - 790 / H, xlab_day, ha='center', va='center', fontsize=18, color='#1a1a1a')

fig.savefig('out.png', dpi=100)
